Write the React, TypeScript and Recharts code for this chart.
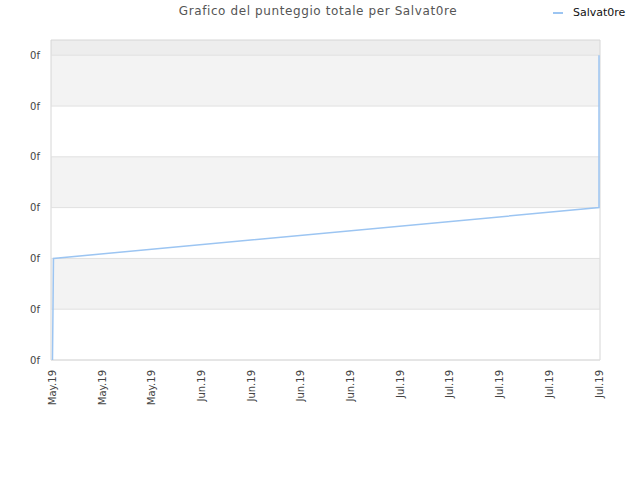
import {
  Line,
  LineChart,
  ReferenceArea,
  ReferenceLine,
  XAxis,
  YAxis,
} from "recharts";

const LINE_BLUE = "#9cc5f2";
const AXIS_TEXT = "#444";
const GRID = "#e0e0e0";
const BORDER = "#d6d6d6";

// x positions are in tick-index units (0 = first label, 11 = last)
const pointX = [0, 0.02, 11, 11];
const totalScore = [0, 2, 3, 6];

const xTickLabels = [
  "May.19", "May.19", "May.19",
  "Jun.19", "Jun.19", "Jun.19", "Jun.19",
  "Jul.19", "Jul.19", "Jul.19", "Jul.19", "Jul.19",
];
const yTicks = [0, 1, 2, 3, 4, 5, 6];
const yTickLabels = ["0f", "0f", "0f", "0f", "0f", "0f", "0f"];

// alternating background stripes, [from, to, colour]
const bands: [number, number, string][] = [
  [6, 6.3, "#ededed"],
  [5, 6, "#f3f3f3"],
  [4, 5, "#ffffff"],
  [3, 4, "#f3f3f3"],
  [2, 3, "#ffffff"],
  [1, 2, "#f3f3f3"],
  [0, 1, "#ffffff"],
];

const data = pointX.map((x, i) => ({ x, score: totalScore[i] }));

const X_MIN = -0.03;
const X_MAX = 11.02;
const FONT = "DejaVu Sans, sans-serif";

function RotatedTick(props: any) {
  const { x, y, payload } = props;
  return (
    <g transform={`translate(${x},${y + 2}) rotate(-90)`}>
      <text textAnchor="end" dy="0.35em" fontSize={10} fill={AXIS_TEXT} fontFamily={FONT}>
        {xTickLabels[payload.value]}
      </text>
    </g>
  );
}

export default function App() {
  return (
    <div
      style={{
        position: "fixed",
        top: 0,
        left: 0,
        width: 640,
        height: 480,
        background: "#fff",
      }}
    >
      <div
        style={{
          position: "absolute",
          top: 4,
          left: 0,
          width: 636,
          textAlign: "center",
          fontFamily: FONT,
          fontSize: 12,
          letterSpacing: 0.6,
          color: "#555",
        }}
      >
        Grafico del punteggio totale per Salvat0re
      </div>
      <div
        style={{
          position: "absolute",
          top: 6,
          left: 553,
          display: "flex",
          alignItems: "center",
          fontFamily: FONT,
          fontSize: 11,
          color: "#111",
        }}
      >
        <span
          style={{
            display: "inline-block",
            width: 10,
            height: 2,
            background: LINE_BLUE,
            marginRight: 10,
          }}
        />
        Salvat0re
      </div>
      <LineChart
        width={640}
        height={480}
        data={data}
        margin={{ top: 40, right: 40, bottom: 0, left: 0 }}
      >
        {bands.map(([y1, y2, fill], i) => (
          <ReferenceArea
            key={i}
            x1={X_MIN}
            x2={X_MAX}
            y1={y1}
            y2={y2}
            fill={fill}
            fillOpacity={1}
            stroke="none"
          />
        ))}
        {yTicks.map((v) => (
          <ReferenceLine key={v} y={v} stroke={GRID} strokeWidth={1} />
        ))}
        <ReferenceArea
          x1={X_MIN}
          x2={X_MAX}
          y1={0}
          y2={6.3}
          fill="none"
          stroke={BORDER}
          strokeWidth={1}
        />
        <XAxis
          dataKey="x"
          type="number"
          domain={[X_MIN, X_MAX]}
          ticks={xTickLabels.map((_, i) => i)}
          interval={0}
          height={120}
          axisLine={false}
          tickLine={false}
          tick={<RotatedTick />}
        />
        <YAxis
          type="number"
          domain={[0, 6.3]}
          ticks={yTicks}
          width={51}
          axisLine={false}
          tickLine={false}
          tickSize={0}
          tickMargin={11}
          tick={{ fontSize: 10, fill: AXIS_TEXT, fontFamily: FONT }}
          tickFormatter={(v: number) => yTickLabels[yTicks.indexOf(v)] ?? ""}
        />
        <Line
          dataKey="score"
          type="linear"
          stroke={LINE_BLUE}
          strokeWidth={1.5}
          dot={false}
          isAnimationActive={false}
        />
      </LineChart>
    </div>
  );
}
